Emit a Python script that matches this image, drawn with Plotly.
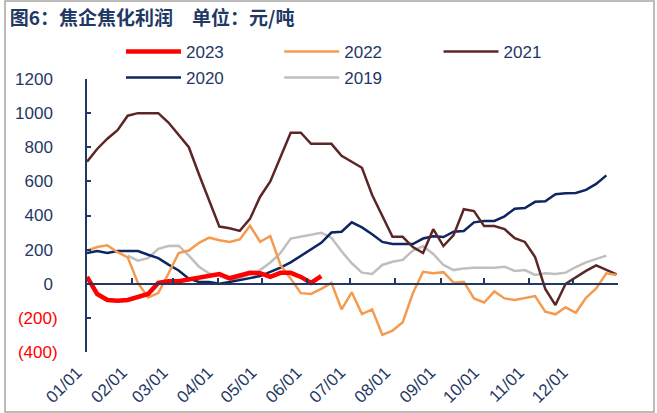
import pandas as pd
import plotly.graph_objects as go

# ---- data, weekly points from 01/01 ----
weeks = pd.date_range("2021-01-01", periods=53, freq="7D")

y2023 = [40, -60, -95, -100, -95, -80, -60, 5, 15, 15, 25, 37, 50, 57, 32, 51,
         64, 62, 40, 64, 64, 40, 5, 45]
y2022 = [195, 215, 225, 185, 155, 5, -80, -55, 60, 180, 195, 240, 270, 255, 245, 260,
         340, 246, 280, 110, 30, -55, -60, -30, 5, -150, -50, -178, -150, -300,
         -275, -225, -56, 70, 62, 68, 6, 12, -86, -110, -45, -86, -95, -82, -72,
         -164, -179, -138, -170, -82, -27, 61, 51]
y2021 = [715, 790, 850, 900, 985, 1000, 1000, 1000, 945, 870, 800, 640, 490, 335,
         325, 310, 380, 510, 600, 740, 885, 885, 820, 820, 820, 750, 715, 680, 520,
         400, 275, 275, 215, 180, 320, 221, 285, 437, 426, 338, 338, 320, 267, 245,
         157, -30, -125, 0, 40, 75, 108, 80, 55]
y2020 = [180, 192, 180, 192, 192, 192, 170, 150, 112, 78, 30, 10, 10, 0, 10, 20,
         33, 45, 70, 95, 125, 165, 205, 240, 300, 305, 360, 330, 290, 245, 233,
         233, 233, 265, 278, 274, 305, 309, 360, 368, 368, 395, 440, 444, 480, 484,
         525, 530, 532, 550, 585, 635]
y2019 = [None, None, None, None, 165, 135, 150, 205, 221, 223, 165, 100, 60, 45,
         25, 35, 55, 80, 125, 180, 265, 276, 290, 299, 270, 190, 120, 65, 57, 110,
         129, 140, 195, 220, 175, 110, 80, 90, 94, 94, 94, 100, 75, 80, 52, 62, 57,
         65, 98, 125, 145, 165]

y_ticks = [1200, 1000, 800, 600, 400, 200, 0, -200, -400]
month_ticks = pd.date_range("2021-01-01", periods=12, freq="MS")

NAVY = "#1F3864"
# name, values, colour, width, legend id
series = [
    ("2019", y2019, "#BFBFBF", 2.5, "legend5"),
    ("2020", y2020, "#0D2560", 2.5, "legend4"),
    ("2021", y2021, "#5C2626", 2.5, "legend3"),
    ("2022", y2022, "#F59B50", 2.5, "legend2"),
    ("2023", y2023, "#FF0000", 4.5, "legend"),
]
# legend slots (paper coords): two rows like the reference
legend_pos = {
    "legend": (0.064, 1.099), "legend2": (0.362, 1.099), "legend3": (0.662, 1.099),
    "legend4": (0.064, 1.004), "legend5": (0.362, 1.004),
}

fig = go.Figure()
for name, vals, color, w, leg in series:
    fig.add_trace(go.Scatter(
        x=weeks[:len(vals)], y=vals, name=name, mode="lines",
        line=dict(color=color, width=w), legend=leg, connectgaps=False,
    ))

# helper trace for the zero-line axis carrying the month ticks
fig.add_trace(go.Scatter(x=[weeks[0]], y=[None], xaxis="x2", showlegend=False,
                         hoverinfo="skip", mode="lines"))

def ylab(v):
    if v < 0:
        return "<span style='color:#FF0000'>(%d)</span>" % (-v)
    return "%d\u00a0" % v

legends = {}
for key, (lx, ly) in legend_pos.items():
    legends[key] = dict(orientation="h", x=lx, xanchor="left", y=ly, yanchor="middle",
                        itemwidth=55, font=dict(size=17, color=NAVY),
                        bgcolor="rgba(0,0,0,0)")

fig.update_layout(
    width=657, height=413,
    margin=dict(l=87, r=39, t=79, b=61, autoexpand=False),
    paper_bgcolor="white", plot_bgcolor="white",
    font=dict(family="Arial, Liberation Sans, sans-serif", color=NAVY),
    title=dict(text="<b>图6：焦企焦化利润\u2003单位：元/吨</b>", x=0.015, xanchor="left",
               y=0.956, yanchor="middle",
               font=dict(family="Noto Sans CJK SC", size=19, color=NAVY)),
    xaxis=dict(type="date", range=["2021-01-01", "2022-01-01"],
               tickvals=month_ticks, tickformat="%m/%d", tickangle=-45,
               tickfont=dict(size=17, color=NAVY), showgrid=False, showline=False,
               zeroline=False, ticks="outside", ticklen=3,
               tickcolor="rgba(0,0,0,0)", ticklabelshift=-10),
    xaxis2=dict(type="date", range=["2021-01-01", "2022-01-01"], overlaying="x",
                anchor="free", position=0.25, side="bottom", showline=True,
                linecolor=NAVY, linewidth=2, ticks="inside", ticklen=5, tickwidth=2,
                tickcolor=NAVY, tickvals=month_ticks, showticklabels=False,
                showgrid=False, zeroline=False),
    yaxis=dict(range=[-400, 1200], tickvals=y_ticks, ticktext=[ylab(v) for v in y_ticks],
               showline=True, linecolor=NAVY, linewidth=2, ticks="inside", ticklen=4,
               tickwidth=2, tickcolor=NAVY, showgrid=False, zeroline=False,
               tickfont=dict(size=17, color=NAVY), ticklabelstandoff=24),
    shapes=[dict(type="rect", xref="paper", yref="paper", x0=-0.1544, x1=1.0678,
                 y0=-0.2198, y1=1.2857, line=dict(color="#A6A6A6", width=1.5),
                 layer="below")],
    showlegend=True,
    **legends,
)

# remove the browser's default page margin so the figure fills the window exactly
fig.write_html("out.html", config={"displayModeBar": False},
               post_script="document.body.style.margin='0';document.body.style.overflow='hidden';")
